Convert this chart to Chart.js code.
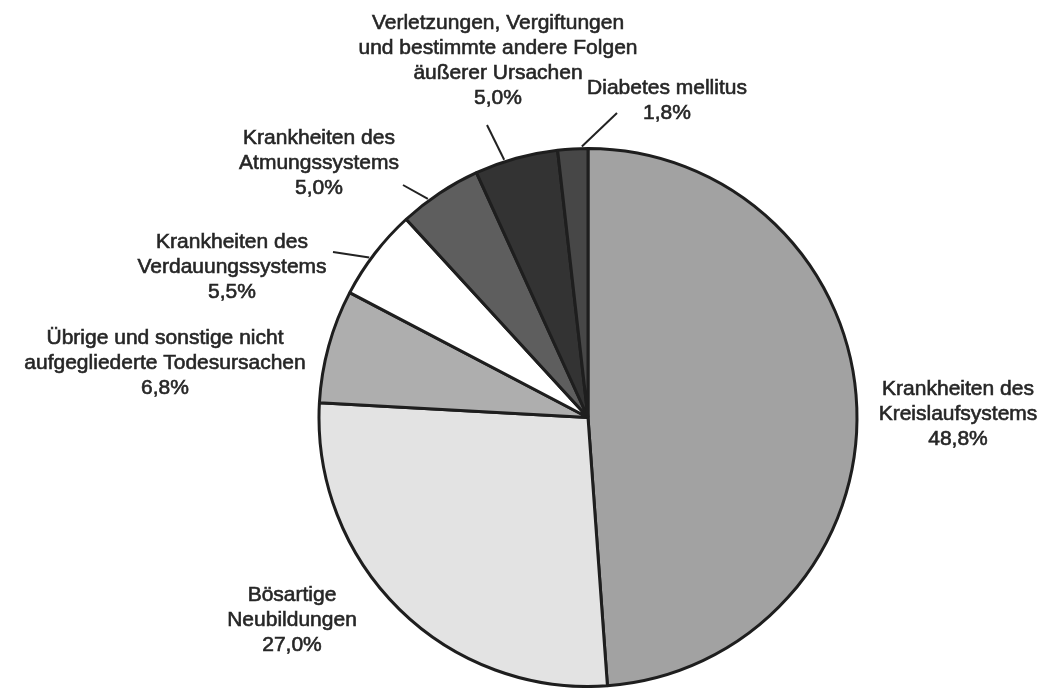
<!DOCTYPE html>
<html>
<head>
<meta charset="utf-8">
<script src="https://cdn.jsdelivr.net/npm/chart.js@4/dist/chart.umd.min.js"></script>
<style>
  body { margin: 0; background: #fff; }
</style>
</head>
<body>
<canvas id="pie" width="1052" height="688"></canvas>
<script>
var labels = [
    ['Krankheiten des', 'Kreislaufsystems'],
    ['Bösartige', 'Neubildungen'],
    ['Übrige und sonstige nicht', 'aufgegliederte Todesursachen'],
    ['Krankheiten des', 'Verdauungssystems'],
    ['Krankheiten des', 'Atmungssystems'],
    ['Verletzungen, Vergiftungen', 'und bestimmte andere Folgen', 'äußerer Ursachen'],
    ['Diabetes mellitus']
];
var shares = [48.8, 27.0, 6.8, 5.5, 5.0, 5.0, 1.8];
var colors = ['#a2a2a2', '#e3e3e3', '#aeaeae', '#ffffff', '#5e5e5e', '#333333', '#474747'];

// where the text blocks sit (centre x, first line y) and where leader lines attach
var labelPos = [
    { x: 958, y: 389 },
    { x: 292, y: 595 },
    { x: 165, y: 338 },
    { x: 232, y: 242 },
    { x: 319, y: 138 },
    { x: 498, y: 23 },
    { x: 667, y: 88 }
];
// leader: start point near label, t = position along the slice's arc
var leaders = [
    null,
    null,
    null,
    { x: 333, y: 252, t: 0.43 },
    { x: 403, y: 185, t: 0.35 },
    { x: 487, y: 125, t: 0.36 },
    { x: 617, y: 113, t: 0.8 }
];

function fmt(v) {
    return v.toFixed(1).replace('.', ',') + '%';
}

var labelPlugin = {
    id: 'pieLabels',
    afterDraw: function (chart) {
        var c = chart.ctx;
        var arcs = chart.getDatasetMeta(0).data;
        c.save();
        // leader lines
        c.strokeStyle = '#222';
        c.lineWidth = 2;
        arcs.forEach(function (arc, i) {
            var l = leaders[i];
            if (!l) return;
            var a = arc.startAngle + (arc.endAngle - arc.startAngle) * l.t;
            var r = arc.outerRadius + 2;
            c.beginPath();
            c.moveTo(l.x, l.y);
            c.lineTo(arc.x + Math.cos(a) * r, arc.y + Math.sin(a) * r);
            c.stroke();
        });
        // text, slightly thickened like the printed original
        c.fillStyle = '#262626';
        c.strokeStyle = '#262626';
        c.lineWidth = 0.6;
        c.font = '21px "Liberation Sans", Arial, sans-serif';
        c.textAlign = 'center';
        c.textBaseline = 'middle';
        labels.forEach(function (lines, i) {
            var p = labelPos[i];
            var all = lines.concat([fmt(shares[i])]);
            all.forEach(function (t, k) {
                c.fillText(t, p.x, p.y + k * 25);
                c.strokeText(t, p.x, p.y + k * 25);
            });
        });
        c.restore();
    }
};

var ctx = document.getElementById('pie').getContext('2d');
var myChart = new Chart(ctx, {
    type: 'pie',
    data: {
        labels: labels,
        datasets: [{
            data: shares,
            backgroundColor: colors,
            borderColor: '#1e1e1e',
            borderWidth: 3
        }]
    },
    options: {
        responsive: false,
        animation: false,
        layout: {
            padding: { left: 317, right: 193, top: 147, bottom: 0 }
        },
        plugins: {
            legend: { display: false },
            tooltip: { enabled: false }
        }
    },
    plugins: [labelPlugin]
});
</script>
</body>
</html>
